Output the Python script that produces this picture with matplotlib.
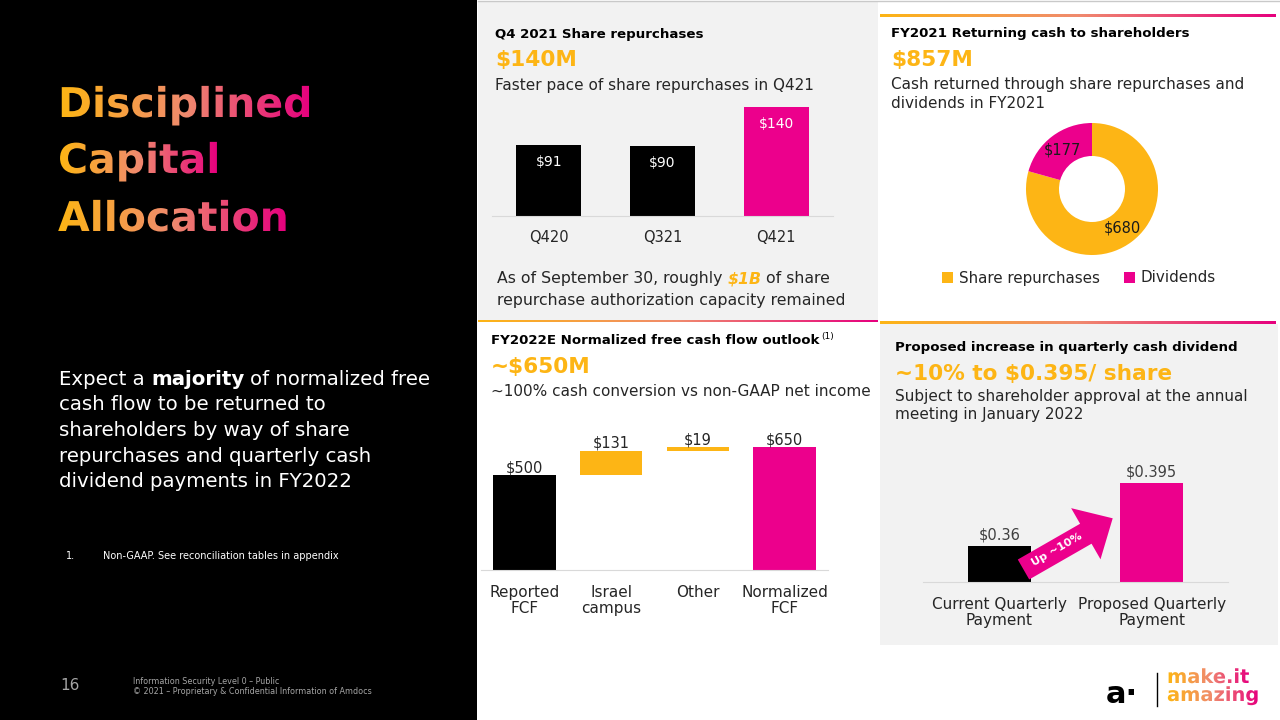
import numpy as np
import matplotlib
matplotlib.use("Agg")
import matplotlib.pyplot as plt
from matplotlib import patheffects
from matplotlib.colors import LinearSegmentedColormap
from matplotlib.patches import Rectangle, FancyArrow
from matplotlib.transforms import IdentityTransform, TransformedPath

# ---- data ----
repurchase_quarters = ["Q420", "Q321", "Q421"]
repurchase_values = [91, 90, 140]

return_labels = ["Share repurchases", "Dividends"]
return_values = [680, 177]

fcf_steps = ["Reported\nFCF", "Israel\ncampus", "Other", "Normalized\nFCF"]
fcf_values = [500, 131, 19, 650]

dividend_labels = ["Current Quarterly\nPayment", "Proposed Quarterly\nPayment"]
dividend_values = [0.36, 0.395]

title_lines = ["Disciplined", "Capital", "Allocation"]
body_lines = ["cash flow to be returned to",
              "shareholders by way of share",
              "repurchases and quarterly cash",
              "dividend payments in FY2022"]

ORANGE = "#FDB515"
PINK = "#EC008C"
GREY_BG = "#F2F2F2"
DARK = "#262626"
cmap = LinearSegmentedColormap.from_list("brand", ["#FDB515", "#F08A6E", "#E6007E"])

W, H = 1280, 720
plt.rcParams["font.family"] = ["DejaVu Sans"]
fig = plt.figure(figsize=(12.8, 7.2), dpi=100)
fig.patch.set_facecolor("white")

# background axes in pixel coordinates (origin top-left)
bg = fig.add_axes([0, 0, 1, 1])
bg.axis("off")


def px_axes(x0, y0, x1, y1):
    ax = fig.add_axes([x0 / W, 1 - y1 / H, (x1 - x0) / W, (y1 - y0) / H])
    ax.set_facecolor("none")
    return ax


def bar_style(ax, size, pad):
    for s in ["top", "right", "left"]:
        ax.spines[s].set_visible(False)
    ax.spines["bottom"].set_color("#d9d9d9")
    ax.set_yticks([])
    ax.tick_params(axis="x", length=0, labelsize=size, pad=pad, labelcolor=DARK)


class GradientText(patheffects.AbstractPathEffect):
    # fills the glyph outlines with a left-to-right brand gradient
    def draw_path(self, renderer, gc, tpath, affine, rgbFace=None):
        path = affine.transform_path(tpath)
        ext = path.get_extents()
        x0, y0 = int(np.floor(ext.x0)), int(np.floor(ext.y0))
        w = int(np.ceil(ext.x1)) - x0 + 1
        h = int(np.ceil(ext.y1)) - y0 + 1
        row = (cmap(np.linspace(0, 1, w)) * 255).astype(np.uint8)
        img = np.ascontiguousarray(np.repeat(row[None, :, :], h, axis=0))
        gc2 = renderer.new_gc()
        gc2.copy_properties(gc)
        gc2.set_clip_path(TransformedPath(path, IdentityTransform()))
        renderer.draw_image(gc2, x0, y0, img)
        gc2.restore()


def grad_line(x0, x1, y, h=3):
    bg.imshow(np.linspace(0, 1, 256)[None, :], cmap=cmap, extent=(x0, x1, y + h, y),
              aspect="auto", interpolation="bilinear")


# panels
bg.add_patch(Rectangle((0, 0), 477, 720, color="black", lw=0))
bg.add_patch(Rectangle((478, 2), 400, 318, color=GREY_BG, lw=0))
bg.add_patch(Rectangle((880, 324), 398, 321, color=GREY_BG, lw=0))
bg.plot([478, 1280], [1, 1], color="#c9c9c9", lw=1)
grad_line(480, 878, 15)
grad_line(880, 1276, 14)
grad_line(478, 878, 319)
grad_line(880, 1276, 321)
bg.set_xlim(0, W)
bg.set_ylim(H, 0)

renderer = fig.canvas.get_renderer()


def rich(x, y, parts, size, color):
    # pieces of one line with different styles, separated by a space
    gap = 0.318 * size * 100 / 72
    for text, style in parts:
        t = bg.text(x, y, text, fontsize=size, va="baseline", ha="left",
                    color=style.get("color", color),
                    fontweight=style.get("weight", "normal"),
                    fontstyle=style.get("style", "normal"))
        x = t.get_window_extent(renderer).x1 + gap
    return x


# ---- left side ----
for line, base in zip(title_lines, [117, 173, 231]):
    bg.text(58, base, line, fontsize=29.5, fontweight="bold", va="baseline",
            color=ORANGE, path_effects=[GradientText()])

rich(59, 385, [("Expect a", {}), ("majority", {"weight": "bold"}),
               ("of normalized free", {})], 14.2, "white")
for i, line in enumerate(body_lines):
    bg.text(59, 385 + 25.5 * (i + 1), line, fontsize=14.2, color="white", va="baseline")

bg.text(66, 559, "1.", fontsize=7, color="white", va="baseline")
bg.text(103, 559, "Non-GAAP. See reconciliation tables in appendix", fontsize=7,
        color="white", va="baseline")
bg.text(60, 686, "16", fontsize=11, color="#a6a6a6", va="center")
bg.text(133, 681, "Information Security Level 0 \u2013 Public", fontsize=5.8,
        color="#a6a6a6", va="center")
bg.text(133, 692, "\u00a9 2021 \u2013 Proprietary & Confidential Information of Amdocs",
        fontsize=5.8, color="#a6a6a6", va="center")

# ---- logo ----
bg.text(1106, 703, "a\u00b7", fontsize=22, fontweight="bold", color="black", va="baseline")
bg.plot([1157, 1157], [673, 706], color="black", lw=1)
bg.text(1167, 683, "make.it", fontsize=14, fontweight="bold", va="baseline",
        color=ORANGE, path_effects=[GradientText()])
bg.text(1167, 701, "amazing", fontsize=14, fontweight="bold", va="baseline",
        color=ORANGE, path_effects=[GradientText()])

# ---- panel texts ----
HEAD, BIG, SUB = 9.6, 15.6, 11

bg.text(495, 38, "Q4 2021 Share repurchases", fontsize=HEAD, fontweight="bold", va="baseline")
bg.text(495, 66, "$140M", fontsize=BIG, fontweight="bold", color=ORANGE, va="baseline")
bg.text(495, 90, "Faster pace of share repurchases in Q421", fontsize=SUB, color=DARK, va="baseline")
rich(497, 283, [("As of September 30, roughly", {}),
                ("$1B", {"weight": "bold", "style": "italic", "color": ORANGE}),
                ("of share", {})], 11.3, DARK)
bg.text(497, 305, "repurchase authorization capacity remained", fontsize=11.3, color=DARK,
        va="baseline")

bg.text(891, 37, "FY2021 Returning cash to shareholders", fontsize=HEAD, fontweight="bold",
        va="baseline")
bg.text(891, 66, "$857M", fontsize=BIG, fontweight="bold", color=ORANGE, va="baseline")
bg.text(891, 89, "Cash returned through share repurchases and", fontsize=SUB, color=DARK,
        va="baseline")
bg.text(891, 108, "dividends in FY2021", fontsize=SUB, color=DARK, va="baseline")

t = bg.text(491, 344, "FY2022E Normalized free cash flow outlook", fontsize=HEAD,
            fontweight="bold", va="baseline")
bg.text(t.get_window_extent(renderer).x1 + 2, 339, "(1)", fontsize=6.5, va="baseline")
bg.text(491, 373, "~$650M", fontsize=BIG, fontweight="bold", color=ORANGE, va="baseline")
bg.text(491, 396, "~100% cash conversion vs non-GAAP net income", fontsize=SUB, color=DARK,
        va="baseline")

bg.text(895, 351, "Proposed increase in quarterly cash dividend", fontsize=HEAD,
        fontweight="bold", va="baseline")
bg.text(895, 380, "~10% to $0.395/ share", fontsize=BIG, fontweight="bold", color=ORANGE,
        va="baseline")
bg.text(895, 401, "Subject to shareholder approval at the annual", fontsize=SUB, color=DARK,
        va="baseline")
bg.text(895, 419, "meeting in January 2022", fontsize=SUB, color=DARK, va="baseline")

# ---- chart 1: quarterly share repurchases ----
ax1 = px_axes(492, 100, 833, 216)
x1 = np.arange(len(repurchase_values))
bars1 = ax1.bar(x1, repurchase_values, width=0.57, color=["black", "black", PINK])
for rect, v in zip(bars1, repurchase_values):
    ax1.annotate(f"${v}", (rect.get_x() + rect.get_width() / 2, v), xytext=(0, -12),
                 textcoords="offset points", ha="center", va="center", color="white",
                 fontsize=10)
ax1.set_xticks(x1, repurchase_quarters)
bar_style(ax1, 10.5, 10)
ax1.set_xlim(-0.5, 2.5)
ax1.set_ylim(0, 149)

# ---- chart 2: donut ----
ax2 = px_axes(1009.5, 106.5, 1174.5, 271.5)
total = sum(return_values)
wedges, _, autotexts = ax2.pie(return_values, colors=[ORANGE, PINK], startangle=90,
                               counterclock=False,
                               wedgeprops=dict(width=0.5, edgecolor="none"),
                               autopct=lambda p: f"${p * total / 100:.0f}", pctdistance=0.75,
                               textprops=dict(fontsize=10.5, color="#1a1a1a"))
ax2.legend(wedges, return_labels, loc="center", bbox_to_anchor=(1079 / W, 1 - 278 / H),
           bbox_transform=fig.transFigure, ncol=2, frameon=False, fontsize=10.9,
           handlelength=0.7, handleheight=0.7, handletextpad=0.4, columnspacing=1.6,
           labelcolor=DARK)

# ---- chart 3: FCF bridge ----
ax3 = px_axes(481, 437.5, 828, 570)
x3 = np.arange(len(fcf_values))
bottoms = [0, fcf_values[0], fcf_values[0] + fcf_values[1], 0]
ax3.bar(x3, fcf_values, bottom=bottoms, width=0.72, color=["black", ORANGE, ORANGE, PINK])
for xi, b, v in zip(x3, bottoms, fcf_values):
    ax3.annotate(f"${v}", (xi, b + v), xytext=(0, 2), textcoords="offset points",
                 ha="center", va="baseline", color=DARK, fontsize=10.5)
ax3.set_xticks(x3, fcf_steps, linespacing=1.1)
bar_style(ax3, 11, 11)
ax3.set_xlim(-0.5, 3.5)
ax3.set_ylim(0, 700)

# ---- chart 4: quarterly dividend ----
ax4 = px_axes(923, 460, 1228, 582)
x4 = np.arange(len(dividend_values))
ax4.bar(x4, dividend_values, width=0.41, color=["black", PINK])
for xi, v in zip(x4, dividend_values):
    ax4.annotate(f"${v:g}", (xi, v), xytext=(0, 5), textcoords="offset points",
                 ha="center", va="baseline", color="#404040", fontsize=10.5)
ax4.set_xticks(x4, dividend_labels, linespacing=1.1)
bar_style(ax4, 11, 11)
ax4.set_xlim(-0.5, 1.5)
ax4.set_ylim(0.34, 0.34 + 122 / 1800)

# "Up ~10%" arrow drawn on top of the dividend bars
fig.add_artist(FancyArrow(1023.5, 569.5, 89.2, -51.2, width=23, head_width=59,
                          head_length=31, length_includes_head=True, color=PINK, lw=0,
                          transform=bg.transData))
fig.text(1057, 550, "Up ~10%", transform=bg.transData, rotation=30, rotation_mode="anchor",
         ha="center", va="center", color="white", fontsize=8, fontweight="bold")

fig.savefig("out.png", dpi=100)
